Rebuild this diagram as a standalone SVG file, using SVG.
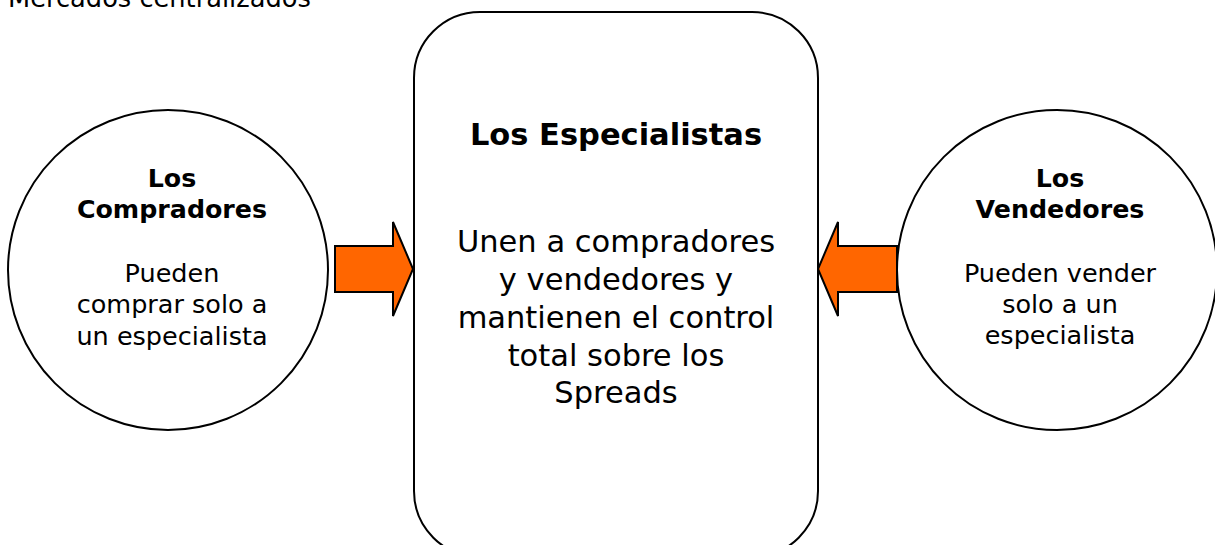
<svg xmlns="http://www.w3.org/2000/svg" width="1215" height="545" viewBox="0 0 1215 545">
<style>
.shape{fill:#fff;stroke:#000;stroke-width:2}
.arrow{fill:#ff6600;stroke:#000;stroke-width:2;stroke-linejoin:miter}
text{font-family:"DejaVu Sans",Verdana,sans-serif;fill:#000;text-anchor:middle}
.b{font-weight:bold;font-size:25.3px}
.n{font-size:25.5px}
.cb{font-weight:bold;font-size:30.5px}
.cn{font-size:30.5px}
</style>
<rect width="1215" height="545" fill="#fff"/>
<text x="8" y="7" style="text-anchor:start;font-size:25.7px">Mercados centralizados</text>
<g id="compradores">
<circle class="shape" cx="168" cy="270" r="160"/>
<text class="b" x="172" y="187">Los</text>
<text class="b" x="172" y="218">Compradores</text>
<text class="n" x="172" y="282">Pueden</text>
<text class="n" x="172" y="313">comprar solo a</text>
<text class="n" x="172" y="345">un especialista</text>
</g>
<g id="vendedores">
<circle class="shape" cx="1057" cy="270" r="160"/>
<text class="b" x="1060" y="187">Los</text>
<text class="b" x="1060" y="218">Vendedores</text>
<text class="n" x="1060" y="282">Pueden vender</text>
<text class="n" x="1060" y="313">solo a un</text>
<text class="n" x="1060" y="344">especialista</text>
</g>
<g id="especialistas">
<rect class="shape" x="414" y="12" width="404" height="545" rx="66" ry="66"/>
<text class="cb" x="616" y="145">Los Especialistas</text>
<text class="cn" x="616" y="252">Unen a compradores</text>
<text class="cn" x="616" y="290">y vendedores y</text>
<text class="cn" x="616" y="328">mantienen el control</text>
<text class="cn" x="616" y="366">total sobre los</text>
<text class="cn" x="616" y="403">Spreads</text>
</g>
<g id="connectors">
<polygon class="arrow" points="335,246 393,246 393,222 413,269 393,316 393,292 335,292"/>
<polygon class="arrow" points="897,246 838,246 838,222 818,269 838,316 838,292 897,292"/>
</g>
</svg>
